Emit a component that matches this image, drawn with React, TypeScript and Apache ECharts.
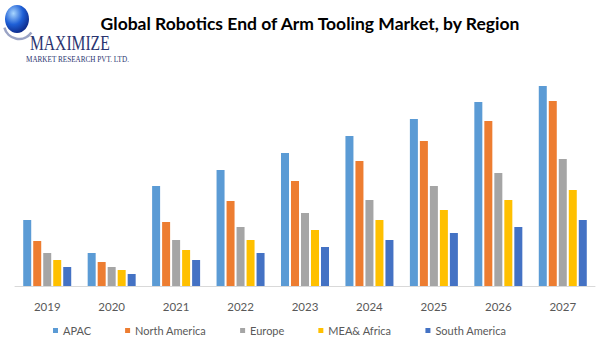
import React, { useEffect, useRef } from "react";
import * as echarts from "echarts";

const years = ["2019", "2020", "2021", "2022", "2023", "2024", "2025", "2026", "2027"];
const apac = [66, 33, 100, 116, 133, 150, 167, 184, 200];
const northAmerica = [45, 24, 64, 85, 105, 125, 145, 165, 185];
const europe = [33, 19, 46, 59, 73, 86, 100, 113, 127];
const meaAfrica = [26, 16, 36, 46, 56, 66, 76, 86, 96];
const southAmerica = [19, 12, 26, 33, 39, 46, 53, 59, 66];

const seriesNames = ["APAC", "North America", "Europe", "MEA& Africa", "South America"];
const seriesData = [apac, northAmerica, europe, meaAfrica, southAmerica];
const colors = ["#5B9BD5", "#ED7D31", "#A5A5A5", "#FFC000", "#4472C4"];

export default function App() {
  const ref = useRef<HTMLDivElement>(null);
  useEffect(() => {
    if (!ref.current) return;
    const chart = echarts.init(ref.current, null, { renderer: "svg" });
    chart.setOption({
      animation: false,
      backgroundColor: "#ffffff",
      title: {
        text: "Global Robotics End of Arm Tooling Market, by Region",
        left: 305,
        textAlign: "center",
        top: 9,
        textStyle: { fontFamily: "Lato", fontWeight: "bold", fontSize: 17.5, color: "#000000" },
      },
      legend: {
        left: 48,
        top: 320,
        itemWidth: 5,
        itemHeight: 5,
        itemGap: 34,
        icon: "rect",
        textStyle: { fontFamily: "Lato", fontSize: 11, color: "#595959" },
        data: seriesNames,
      },
      grid: { left: 15, right: 17, top: 86, bottom: 68 },
      xAxis: {
        type: "category",
        data: years,
        axisLine: { lineStyle: { color: "#D9D9D9", width: 1 } },
        axisTick: { show: false },
        axisLabel: { fontFamily: "Lato", fontSize: 11.5, color: "#595959", margin: 14 },
      },
      yAxis: { type: "value", min: 0, max: 200, show: false, splitLine: { show: false } },
      series: seriesNames.map((name, i) => ({
        name,
        type: "bar",
        data: seriesData[i],
        barWidth: 8,
        barGap: "25%",
        itemStyle: { color: colors[i] },
      })),
      graphic: [
        {
          type: "arc",
          shape: { cx: 19, cy: 24, r: 15, startAngle: 0.6, endAngle: 2.9 },
          style: { stroke: "#9aa3c4", lineWidth: 2.5, fill: "none" },
        },
        {
          type: "ellipse",
          shape: { cx: 17, cy: 19, rx: 12, ry: 14 },
          style: {
            fill: new echarts.graphic.RadialGradient(0.35, 0.3, 0.8, [
              { offset: 0, color: "#a8d6ff" },
              { offset: 0.5, color: "#1e5fd6" },
              { offset: 1, color: "#0a1f7a" },
            ]),
          },
        },
        {
          type: "text",
          x: 30,
          y: 33,
          scaleX: 0.78,
          style: { text: "MAXIMIZE", fontFamily: "Liberation Serif", fontSize: 20, fill: "#2a3470" },
        },
        {
          type: "text",
          x: 26,
          y: 55,
          scaleX: 0.8,
          style: { text: "MARKET RESEARCH PVT. LTD.", fontFamily: "Liberation Serif", fontSize: 9, fill: "#2a3470" },
        },
      ],
    });
    return () => chart.dispose();
  }, []);
  return <div ref={ref} style={{ width: 612, height: 354, position: "absolute", left: 0, top: 0 }} />;
}
